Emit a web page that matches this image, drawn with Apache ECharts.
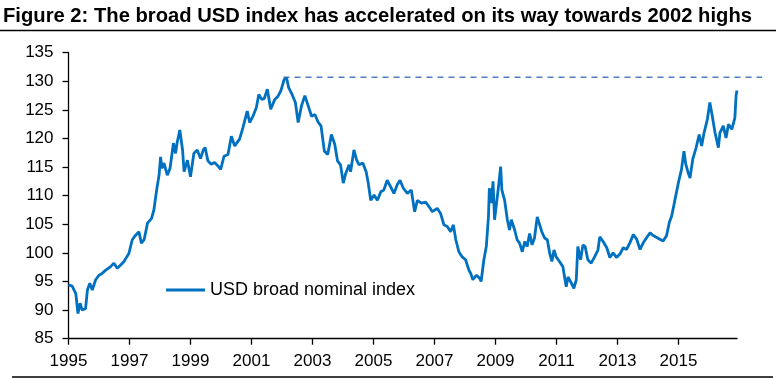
<!DOCTYPE html>
<html>
<head>
<meta charset="utf-8">
<script src="https://cdn.jsdelivr.net/npm/echarts@6/dist/echarts.min.js"></script>
<style>
html,body{margin:0;padding:0;background:#fff;}
#chart{width:779px;height:378px;}
</style>
</head>
<body>
<div id="chart"></div>
<script>
// ---- data ----
var titleText = 'Figure 2: The broad USD index has accelerated on its way towards 2002 highs';
var seriesName = 'USD broad nominal index';
var startYear = 1995;
var endYear = 2016.92;
var yMin = 85, yMax = 135, yStep = 5;
var xTickYears = [1995,1997,1999,2001,2003,2005,2007,2009,2011,2013,2015];

var years = [
1995.00,1995.12,1995.24,1995.31,1995.38,1995.45,1995.56,1995.62,1995.70,1995.78,1995.89,
1996.00,1996.10,1996.20,1996.38,1996.49,1996.60,1996.71,1996.82,1996.91,1996.98,
1997.09,1997.20,1997.31,1997.39,1997.48,1997.59,1997.72,1997.80,1997.89,1997.97,
1998.02,1998.06,1998.13,1998.24,1998.33,1998.44,1998.51,1998.56,1998.65,1998.74,1998.79,1998.90,
1999.00,1999.11,1999.22,1999.33,1999.42,1999.48,1999.57,1999.68,1999.79,1999.90,1999.99,
2000.10,2000.23,2000.34,2000.45,2000.61,2000.72,2000.86,2000.94,
2001.05,2001.16,2001.24,2001.34,2001.42,2001.52,2001.63,2001.76,2001.87,2001.96,
2002.07,2002.15,2002.22,2002.33,2002.44,2002.53,2002.64,2002.75,2002.86,2002.97,
2003.08,2003.19,2003.28,2003.39,2003.50,2003.62,2003.73,2003.82,2003.92,
2004.01,2004.09,2004.20,2004.25,2004.36,2004.45,2004.53,2004.65,2004.76,2004.82,2004.91,
2005.02,2005.13,2005.24,2005.34,2005.45,2005.56,2005.67,2005.78,2005.87,2005.98,
2006.11,2006.24,2006.35,2006.44,2006.57,2006.71,2006.82,2006.93,
2007.09,2007.20,2007.31,2007.42,2007.53,2007.62,2007.70,2007.80,2007.91,
2008.02,2008.13,2008.19,2008.26,2008.37,2008.48,2008.53,2008.62,2008.70,2008.77,2008.80,2008.86,2008.92,2008.97,
2009.06,2009.10,2009.17,2009.21,2009.30,2009.39,2009.46,2009.52,2009.63,2009.71,2009.79,2009.88,2009.96,
2010.04,2010.12,2010.20,2010.28,2010.37,2010.45,2010.52,2010.61,2010.70,2010.78,2010.85,2010.92,2010.99,
2011.10,2011.21,2011.32,2011.38,2011.49,2011.57,2011.65,2011.70,2011.79,2011.87,2011.94,
2012.03,2012.14,2012.25,2012.36,2012.42,2012.53,2012.65,2012.75,2012.86,2012.97,
2013.08,2013.19,2013.30,2013.41,2013.52,2013.63,2013.74,2013.85,2013.96,
2014.07,2014.18,2014.29,2014.39,2014.50,2014.61,2014.70,2014.78,2014.89,
2015.00,2015.10,2015.18,2015.24,2015.32,2015.38,2015.47,2015.58,2015.68,2015.76,2015.84,2015.95,
2016.03,2016.11,2016.20,2016.31,2016.36,2016.47,2016.56,2016.64,2016.75,2016.85,2016.89,2016.92
];
var values = [
94.4,94.2,92.9,89.4,91.2,90.0,90.3,93.5,94.7,93.5,95.3,
96.1,96.4,96.9,97.6,98.2,97.3,97.9,98.5,99.3,99.9,
102.3,103.1,103.7,101.7,102.3,105.2,106.0,107.5,111.0,113.6,
116.8,114.8,115.7,113.6,114.8,119.2,117.4,119.2,121.5,118.0,114.2,116.2,
113.3,117.4,118.0,116.5,118.0,118.4,116.1,115.5,115.8,115.2,114.6,
116.9,117.2,120.4,118.7,119.9,121.9,124.8,122.8,
123.9,125.4,127.7,126.8,127.0,128.6,125.1,126.8,127.4,128.3,
130.3,130.6,128.9,127.7,126.3,122.8,125.7,127.5,125.7,123.9,
124.2,122.8,122.2,117.8,117.2,120.7,119.0,116.1,115.4,
112.2,113.9,115.4,114.2,118.0,116.2,115.4,115.7,114.2,112.5,109.2,
110.1,109.2,110.7,111.0,112.7,111.6,110.4,111.9,112.7,111.3,
110.4,111.0,107.2,109.2,108.7,108.9,108.1,107.2,
107.8,106.9,104.9,104.6,103.7,104.9,102.3,100.2,99.3,
98.8,97.0,96.4,95.3,96.1,95.6,95.0,98.8,101.1,106.3,111.3,108.7,112.5,105.8,
109.8,111.6,115.1,111.0,109.2,105.8,104.0,105.8,104.0,102.3,101.7,100.2,102.0,
101.1,103.4,101.4,102.6,106.3,104.9,103.7,102.6,102.3,99.9,98.5,100.5,99.3,
98.5,97.6,94.1,95.8,94.7,93.8,95.3,101.1,98.8,101.4,101.1,
98.8,98.2,99.3,100.5,102.8,102.0,100.9,99.2,100.0,99.2,
99.8,100.9,100.6,101.8,103.2,102.4,100.6,101.8,102.7,
103.5,103.0,102.7,102.4,102.1,103.0,105.3,106.5,109.4,
112.3,114.6,117.8,115.5,114.0,113.1,116.4,118.4,120.7,118.7,121.0,123.4,
126.3,123.9,121.0,118.4,121.0,122.2,120.1,122.5,121.6,123.6,127.5,128.4
];
// 2002 high reference (dashed)
var highLevel = 130.7;
var highStartYear = 2002.05;
var highEndYear = 2017.74;

// ---- chart ----
var chart = echarts.init(document.getElementById('chart'), null, {renderer:'canvas'});
var lineData = years.map(function(y,i){ return [y - startYear, values[i]]; });
var dashData = [[highStartYear - startYear, highLevel],[highEndYear - startYear, highLevel]];
var tickOffsets = xTickYears.map(function(y){ return y - startYear; });
var font = 'Liberation Sans, Arial, sans-serif';

// title: condensed bold (Arial Narrow look) via horizontal scaling of real text
var titleFont = 'bold 21px "Liberation Sans", Arial, sans-serif';
var ctx = document.createElement('canvas').getContext('2d');
ctx.font = titleFont;
var titleW = ctx.measureText(titleText).width;
var titleScale = 749 / titleW;

var option = {
  animation:false,
  backgroundColor:'#fff',
  legend:{
    data:[seriesName], left:166, top:281, padding:0, itemWidth:39, itemHeight:14,
    icon:'path://M0,5.5 L40,5.5 L40,8.5 L0,8.5 Z',
    textStyle:{fontFamily:font, fontSize:18, color:'#000'}
  },
  grid:[
    {left:68.5, right:42, top:52.7, bottom:39.3, containLabel:false},
    {left:68.5, right:17, top:52.7, bottom:39.3, containLabel:false}
  ],
  xAxis:[
    {type:'value', gridIndex:0, min:0, max:endYear - startYear,
     axisLine:{lineStyle:{color:'#000', width:1.3}},
     axisTick:{show:true, length:6, inside:false, customValues:tickOffsets, lineStyle:{color:'#000', width:1.3}},
     axisLabel:{margin:14, color:'#000', fontFamily:font, fontSize:17, customValues:tickOffsets,
       formatter:function(v){ return String(Math.round(v + startYear)); }},
     splitLine:{show:false}},
    {type:'value', gridIndex:1, min:0, max:highEndYear - startYear, show:false}
  ],
  yAxis:[
    {type:'value', gridIndex:0, min:yMin, max:yMax, interval:yStep,
     axisLine:{show:true, lineStyle:{color:'#000', width:1.3}},
     axisTick:{show:true, length:6, inside:false, lineStyle:{color:'#000', width:1.3}},
     axisLabel:{margin:15, color:'#000', fontFamily:font, fontSize:17},
     splitLine:{show:false}},
    {type:'value', gridIndex:1, min:yMin, max:yMax, show:false}
  ],
  series:[
    {name:seriesName, type:'line', xAxisIndex:0, yAxisIndex:0, data:lineData,
     symbol:'none', lineStyle:{color:'#0070C0', width:2.8}, itemStyle:{color:'#0070C0'}, z:3},
    {name:'2002 high', type:'line', xAxisIndex:1, yAxisIndex:1, data:dashData,
     symbol:'none', lineStyle:{color:'#4F7FC0', width:1.5, type:[6,5]}, z:2, silent:true}
  ],
  graphic:[
    {type:'text', x:3, y:16, scaleX:titleScale, scaleY:1,
     style:{text:titleText, font:titleFont, fill:'#000', verticalAlign:'middle', align:'left'}},
    {type:'line', shape:{x1:0, y1:30.5, x2:776, y2:30.5}, style:{stroke:'#000', lineWidth:1.3}},
    {type:'line', shape:{x1:12, y1:377, x2:773, y2:377}, style:{stroke:'#000', lineWidth:1.3}}
  ]
};
chart.setOption(option);
</script>
</body>
</html>
